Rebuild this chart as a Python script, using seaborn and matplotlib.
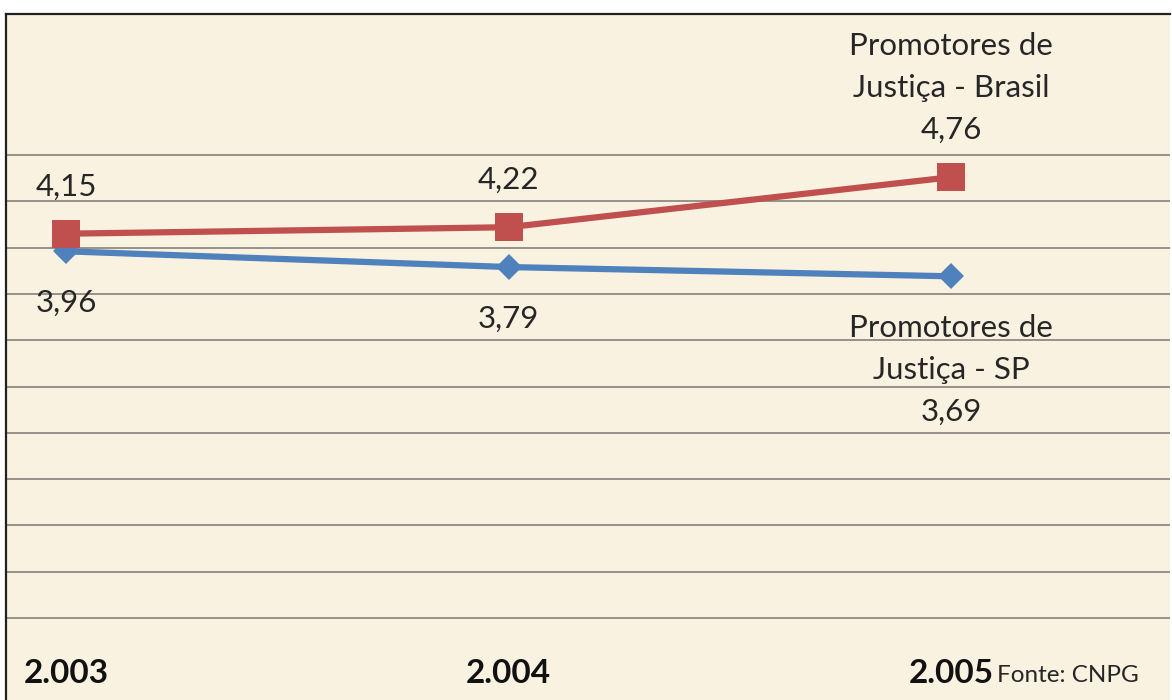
import numpy as np
import pandas as pd
import matplotlib
matplotlib.use("Agg")
import matplotlib.pyplot as plt
import seaborn as sns

# ---- data ----
anos = ["2.003", "2.004", "2.005"]
brasil = [4.15, 4.22, 4.76]
sp = [3.96, 3.79, 3.69]
serie_brasil = ["Promotores de", "Justiça - Brasil"]
serie_sp = ["Promotores de", "Justiça - SP"]
fonte = "Fonte: CNPG"
grid_ticks = [0, 0.5, 1, 1.5, 2, 2.5, 3, 3.5, 4, 4.5, 5]

sns.set_style("white")
plt.rcParams["font.family"] = ["Lato", "DejaVu Sans"]

W, H = 1172, 700
fig = plt.figure(figsize=(W / 100, H / 100), dpi=100)
fig.patch.set_facecolor("white")
ax = fig.add_axes([6 / W, 0, 1164 / W, 686 / H])
ax.set_facecolor("#FAF2E1")

pos = list(range(len(anos)))
df_b = pd.DataFrame({"x": pos, "y": brasil})
df_s = pd.DataFrame({"x": pos, "y": sp})

red = "#C0504D"
blue = "#4F81BD"
sns.lineplot(data=df_s, x="x", y="y", ax=ax, color=blue, lw=4.5,
             marker="D", markersize=13.5, markeredgewidth=0, zorder=3)
sns.lineplot(data=df_b, x="x", y="y", ax=ax, color=red, lw=4.5,
             marker="s", markersize=19.5, markeredgewidth=0, zorder=4)

# scale: 0 at pixel row 618, 92.6 px per unit
ppu = 92.6
ax.set_ylim(-(H - 618) / ppu, (618 - 14) / ppu)
ax.set_xlim(-60 / 442.5, 2 + 219 / 442.5)

ax.set_yticks(grid_ticks)
ax.yaxis.grid(True, color="#8e8a84", lw=1.3)
ax.xaxis.grid(False)
ax.set_xticks([])
ax.set_yticklabels([])
ax.tick_params(length=0)
ax.set_xlabel("")
ax.set_ylabel("")
for s in ["right", "bottom"]:
    ax.spines[s].set_visible(False)
for s in ["left", "top"]:
    ax.spines[s].set_visible(True)
    ax.spines[s].set_color("#222222")
    ax.spines[s].set_linewidth(1.6)

txt = "#262626"
fs = 22.5
def fmt(v):
    return f"{v:.2f}".replace(".", ",")

# data labels
for i in range(len(anos) - 1):
    ax.annotate(fmt(brasil[i]), (pos[i], brasil[i]), xytext=(0, 34),
                textcoords="offset points", ha="center", va="center",
                fontsize=fs, color=txt)
    ax.annotate(fmt(sp[i]), (pos[i], sp[i]), xytext=(0, -37),
                textcoords="offset points", ha="center", va="center",
                fontsize=fs, color=txt)

# last point labels with series names
step = 30
i = len(anos) - 1
lines_b = serie_brasil + [fmt(brasil[i])]
for k, t in enumerate(lines_b):
    off = 34.5 + step * (len(lines_b) - 1 - k)
    ax.annotate(t, (pos[i], brasil[i]), xytext=(0, off),
                textcoords="offset points", ha="center", va="center",
                fontsize=fs, color=txt)
lines_s = serie_sp + [fmt(sp[i])]
for k, t in enumerate(lines_s):
    off = -37.5 - step * k
    ax.annotate(t, (pos[i], sp[i]), xytext=(0, off),
                textcoords="offset points", ha="center", va="center",
                fontsize=fs, color=txt)

# category labels
y_lab = -(683 - 618) / ppu
for p, a in zip(pos, anos):
    ax.text(p, y_lab, a, ha="center", va="baseline", fontsize=24,
            fontweight="bold", color="#111111")
ax.annotate(fonte, (pos[-1], y_lab), xytext=(33, 1), textcoords="offset points",
            ha="left", va="baseline", fontsize=17.5, color=txt)

fig.savefig("out.png", dpi=100, facecolor="white")
